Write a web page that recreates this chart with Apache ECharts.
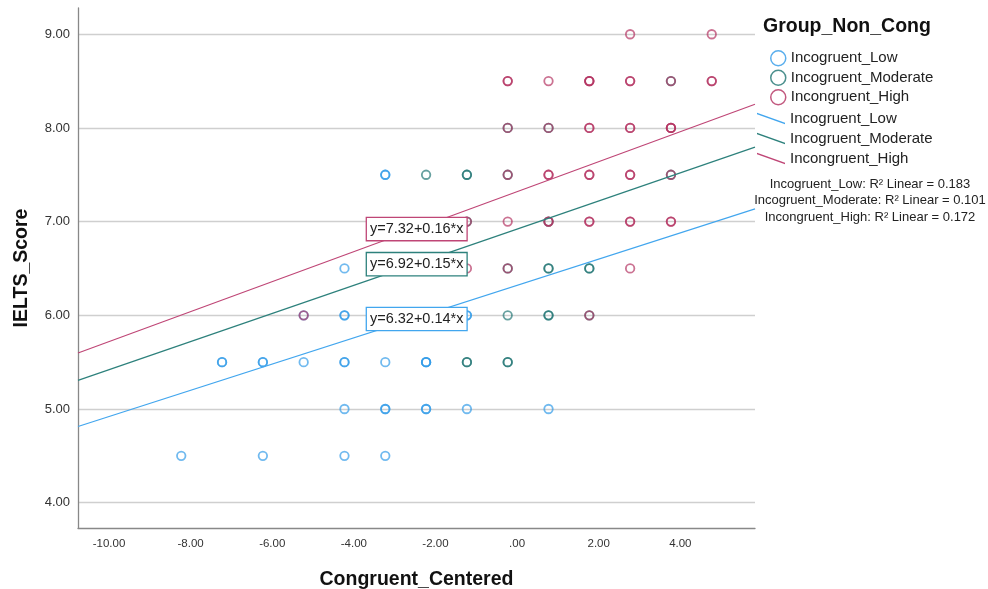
<!DOCTYPE html>
<html>
<head>
<meta charset="utf-8">
<script src="https://cdn.jsdelivr.net/npm/echarts@6/dist/echarts.min.js"></script>
<style>
  html, body { margin: 0; padding: 0; background: #fff; }
  #chart { width: 988px; height: 589px; }
</style>
</head>
<body>
<div id="chart"></div>
<script>
// groups and their colours
var groupNames = ['Incogruent_Low', 'Incogruent_Moderate', 'Incongruent_High'];
var groupColors = ['#2f9ae8', '#1f7472', '#b3305f'];
var lineColors = ['#42a6ee', '#2d817c', '#bf4676'];

// fit results per group
var intercepts = [6.32, 6.92, 7.32];
var slopes = [0.14, 0.15, 0.16];
var rSquared = [0.183, 0.101, 0.172];

// axis ticks
var xTicks = [-10, -8, -6, -4, -2, 0, 2, 4];
var yTicks = [4, 5, 6, 7, 8, 9];

// points, [Congruent_Centered, IELTS_Score]; repeated pairs are overlapping cases
var lowPoints = [
    [-8.23,4.5],[-6.23,4.5],[-4.23,4.5],[-3.23,4.5],
    [-4.23,5.0],[-3.23,5.0],[-3.23,5.0],[-2.23,5.0],[-2.23,5.0],[-1.23,5.0],[0.77,5.0],
    [-7.23,5.5],[-7.23,5.5],[-6.23,5.5],[-6.23,5.5],[-5.23,5.5],[-4.23,5.5],[-4.23,5.5],
    [-3.23,5.5],[-2.23,5.5],[-2.23,5.5],[-2.23,5.5],
    [-5.23,6.0],[-4.23,6.0],[-4.23,6.0],[-1.23,6.0],[-1.23,6.0],
    [-4.23,6.5],
    [-3.23,7.5],[-3.23,7.5]
];
var moderatePoints = [
    [-1.23,5.5],[-1.23,5.5],[-0.23,5.5],[-0.23,5.5],
    [-0.23,6.0],[0.77,6.0],[0.77,6.0],[1.77,6.0],
    [-0.23,6.5],[0.77,6.5],[0.77,6.5],[1.77,6.5],[1.77,6.5],
    [-1.23,7.0],[0.77,7.0],
    [-2.23,7.5],[-1.23,7.5],[-1.23,7.5],[-0.23,7.5],[3.77,7.5],
    [-0.23,8.0],[0.77,8.0],
    [3.77,8.5]
];
var highPoints = [
    [2.77,9.0],[4.77,9.0],
    [-0.23,8.5],[-0.23,8.5],[0.77,8.5],[1.77,8.5],[1.77,8.5],[1.77,8.5],[2.77,8.5],[2.77,8.5],
    [3.77,8.5],[4.77,8.5],[4.77,8.5],
    [-0.23,8.0],[0.77,8.0],[1.77,8.0],[1.77,8.0],[2.77,8.0],[2.77,8.0],[3.77,8.0],[3.77,8.0],[3.77,8.0],
    [-0.23,7.5],[0.77,7.5],[0.77,7.5],[1.77,7.5],[1.77,7.5],[2.77,7.5],[2.77,7.5],[3.77,7.5],
    [-1.23,7.0],[-0.23,7.0],[0.77,7.0],[0.77,7.0],[1.77,7.0],[1.77,7.0],[2.77,7.0],[2.77,7.0],
    [3.77,7.0],[3.77,7.0],
    [-1.23,6.5],[-0.23,6.5],[2.77,6.5],
    [-5.23,6.0],[1.77,6.0]
];
var groupPoints = [lowPoints, moderatePoints, highPoints];

var X_MIN = -10.76, X_MAX = 5.83;
var Y_MIN = 3.73, Y_MAX = 9.28;

// where the equation boxes sit (data coords)
var eqPos = [[-2.46, 5.96], [-2.46, 6.546], [-2.46, 6.92]];

var font = '"Liberation Sans", Arial, sans-serif';

function hexA(hex, a) {
    var n = parseInt(hex.slice(1), 16);
    return 'rgba(' + (n >> 16) + ',' + ((n >> 8) & 255) + ',' + (n & 255) + ',' + a + ')';
}

var series = [];
groupNames.forEach(function(name, i) {
    series.push({
        type: 'scatter',
        name: name,
        data: groupPoints[i],
        symbol: 'circle',
        symbolSize: 8.5,
        itemStyle: {
            color: 'rgba(255,255,255,0)',
            borderColor: hexA(groupColors[i], 0.85),
            borderWidth: 1.8
        },
        z: 2
    });
});
groupNames.forEach(function(name, i) {
    var b = intercepts[i], k = slopes[i];
    series.push({
        type: 'line',
        name: name + ' fit',
        data: [[X_MIN, b + k * X_MIN], [X_MAX, b + k * X_MAX]],
        showSymbol: false,
        symbol: 'none',
        lineStyle: { color: lineColors[i], width: 1.2 },
        itemStyle: { color: lineColors[i] },
        silent: true,
        z: 3,
        markPoint: {
            silent: true,
            symbol: 'rect',
            symbolSize: 1,
            itemStyle: { color: 'rgba(0,0,0,0)' },
            label: {
                show: true, position: 'inside', color: '#222',
                fontFamily: font, fontSize: 14.5,
                backgroundColor: '#fff', borderColor: lineColors[i], borderWidth: 1.3,
                padding: [4, 3, 3, 3],
                formatter: 'y=' + b.toFixed(2) + '+' + k.toFixed(2) + '*x'
            },
            data: [{ coord: eqPos[i] }],
            z: 5
        }
    });
});

var slantIcon = 'path://M0,0L28,10L28,11.4L0,1.4Z';

var option = {
    animation: false,
    backgroundColor: '#fff',
    grid: { left: 78, top: 8, right: 233, bottom: 61, outerBoundsMode: 'none', containLabel: false },
    xAxis: {
        type: 'value', min: X_MIN, max: X_MAX,
        name: 'Congruent_Centered', nameLocation: 'middle', nameGap: 42,
        nameTextStyle: { fontFamily: font, fontSize: 19.5, fontWeight: 'bold', color: '#111' },
        axisLine: { show: true, onZero: false, lineStyle: { color: '#888', width: 1.3 } },
        axisTick: { show: false, customValues: xTicks },
        splitLine: { show: false },
        axisLabel: {
            customValues: xTicks, margin: 10,
            fontFamily: font, fontSize: 11.5, color: '#333',
            formatter: function(v) { return v === 0 ? '.00' : v.toFixed(2); }
        }
    },
    yAxis: {
        type: 'value', min: Y_MIN, max: Y_MAX,
        name: 'IELTS_Score', nameLocation: 'middle', nameGap: 46, nameRotate: 90,
        nameTextStyle: { fontFamily: font, fontSize: 19.5, fontWeight: 'bold', color: '#111' },
        axisLine: { show: true, onZero: false, lineStyle: { color: '#888', width: 1.3 } },
        axisTick: { show: false, customValues: yTicks },
        splitLine: { show: true, lineStyle: { color: '#cfcfcf', width: 1.3 } },
        axisLabel: {
            customValues: yTicks, margin: 8,
            fontFamily: font, fontSize: 13, color: '#333',
            formatter: function(v) { return v.toFixed(2); }
        }
    },
    legend: [{
        orient: 'vertical', left: 765, top: 45,
        itemWidth: 15, itemHeight: 15, itemGap: 3,
        icon: 'circle',
        data: groupNames.map(function(n, i) {
            return { name: n, itemStyle: { color: 'rgba(255,255,255,0)', borderColor: groupColors[i], borderWidth: 1.5 } };
        }),
        textStyle: { fontFamily: font, fontSize: 15, color: '#222', lineHeight: 15 },
        selectedMode: false
    }, {
        orient: 'vertical', left: 752, top: 106,
        itemWidth: 28, itemHeight: 12, itemGap: 5,
        data: groupNames.map(function(n) { return { name: n + ' fit', icon: slantIcon }; }),
        formatter: function(n) { return n.replace(' fit', ''); },
        textStyle: { fontFamily: font, fontSize: 15, color: '#222', lineHeight: 15 },
        selectedMode: false
    }],
    graphic: [{
        type: 'text', left: 763, top: 17,
        style: { text: 'Group_Non_Cong', fontFamily: font, fontSize: 19.5, fontWeight: 'bold', fill: '#111' }
    }].concat(groupNames.map(function(n, i) {
        return {
            type: 'text', x: 870, y: 184 + i * 16.5,
            style: {
                text: n + ': R\u00b2 Linear = ' + rSquared[i].toFixed(3),
                fontFamily: font, fontSize: 13, fill: '#222',
                textAlign: 'center', textVerticalAlign: 'middle'
            }
        };
    })),
    series: series
};

var chart = echarts.init(document.getElementById('chart'), null, { renderer: 'canvas' });
chart.setOption(option);
</script>
</body>
</html>
